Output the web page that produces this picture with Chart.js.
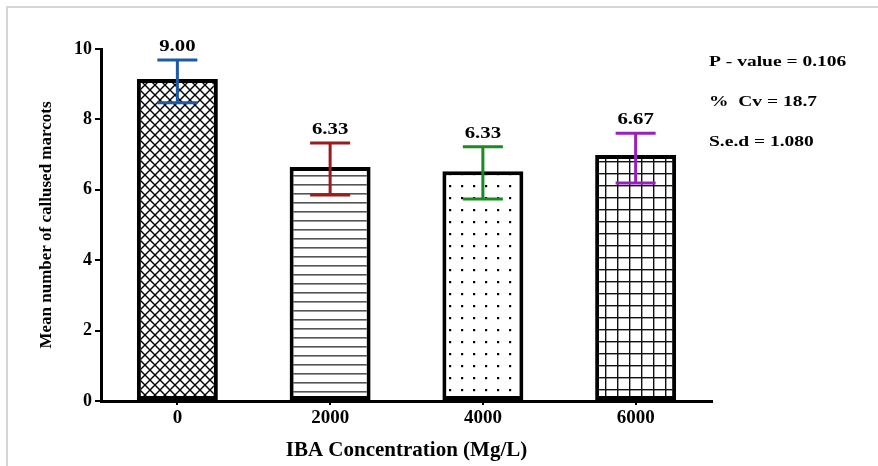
<!DOCTYPE html>
<html>
<head>
<meta charset="utf-8">
<script src="https://cdn.jsdelivr.net/npm/chart.js@4/dist/chart.umd.min.js"></script>
<style>
	html, body { margin: 0; padding: 0; background: #fff; }
	#wrap { position: relative; width: 878px; height: 466px; }
	#frame { position: absolute; left: 6px; top: 6px; right: 0; bottom: 0; border-left: 2px solid #d6d6d6; border-top: 2px solid #d6d6d6; }
	canvas { position: absolute; left: 0; top: 0; }
</style>
</head>
<body>
<div id="wrap">
	<div id="frame"></div>
	<canvas id="chart" width="878" height="466"></canvas>
</div>
<script>
const categories = ["0", "2000", "4000", "6000"];
const means = [9.15, 6.65, 6.53, 6.99];
const errHigh = [9.69, 7.33, 7.22, 7.61];
const errLow = [8.47, 5.85, 5.74, 6.19];
const valueLabels = ["9.00", "6.33", "6.33", "6.67"];
const errColors = ["#1b5aa6", "#9a1c1c", "#1b8a23", "#9b1fc0"];
const yTicks = [0, 2, 4, 6, 8, 10];
const stats = ["P - value = 0.106", "%  Cv = 18.7", "S.e.d = 1.080"];

const FONT = "'Liberation Serif', 'Times New Roman', serif";

function makePattern(kind) {
	const c = document.createElement("canvas");
	const ctx = c.getContext("2d");
	if (kind === "cross") {
		const s = 10;
		c.width = s; c.height = s;
		ctx.fillStyle = "#fff";
		ctx.fillRect(0, 0, s, s);
		ctx.strokeStyle = "#000";
		ctx.lineWidth = 1.4;
		ctx.beginPath();
		ctx.moveTo(-1, -1); ctx.lineTo(s + 1, s + 1);
		ctx.moveTo(s + 1, -1); ctx.lineTo(-1, s + 1);
		ctx.stroke();
	} else if (kind === "hlines") {
		c.width = 10; c.height = 9;
		ctx.fillStyle = "#fff";
		ctx.fillRect(0, 0, 10, 9);
		ctx.fillStyle = "#555";
		ctx.fillRect(0, 4, 10, 1.6);
	} else if (kind === "dots") {
		c.width = 12; c.height = 12;
		ctx.fillStyle = "#fff";
		ctx.fillRect(0, 0, 12, 12);
		ctx.fillStyle = "#000";
		ctx.fillRect(5, 5, 2.2, 2.2);
	} else {
		c.width = 12; c.height = 12;
		ctx.fillStyle = "#fff";
		ctx.fillRect(0, 0, 12, 12);
		ctx.fillStyle = "#111";
		ctx.fillRect(0, 5, 12, 1.4);
		ctx.fillRect(5, 0, 1.4, 12);
	}
	return document.getElementById("chart").getContext("2d").createPattern(c, "repeat");
}

const fills = [makePattern("cross"), makePattern("hlines"), makePattern("dots"), makePattern("grid")];

// text in the source picture is stretched sideways, so draw it a bit wider
function wideText(ctx, text, x, y, align, sx) {
	ctx.save();
	ctx.translate(x, y);
	ctx.scale(sx, 1);
	ctx.textAlign = align;
	ctx.fillText(text, 0, 0);
	ctx.restore();
}

const extras = {
	id: "extras",
	afterDatasetsDraw(chart) {
		const ctx = chart.ctx;
		const x = chart.scales.x;
		const y = chart.scales.y;
		ctx.save();
		categories.forEach((cat, i) => {
			const cx = x.getPixelForValue(i);
			const top = y.getPixelForValue(errHigh[i]);
			const bot = y.getPixelForValue(errLow[i]);
			ctx.strokeStyle = errColors[i];
			ctx.lineWidth = 3;
			ctx.beginPath();
			ctx.moveTo(cx, top); ctx.lineTo(cx, bot);
			ctx.moveTo(cx - 20, top); ctx.lineTo(cx + 20, top);
			ctx.moveTo(cx - 20, bot); ctx.lineTo(cx + 20, bot);
			ctx.stroke();
			ctx.fillStyle = "#000";
			ctx.font = "bold 16px " + FONT;
			ctx.textBaseline = "middle";
			wideText(ctx, valueLabels[i], cx, top - 13, "center", 1.3);
		});
		ctx.font = "bold 15px " + FONT;
		ctx.textBaseline = "middle";
		stats.forEach((t, i) => {
			wideText(ctx, t, 709, 62 + i * 40, "left", 1.3);
		});
		ctx.restore();
	}
};

new Chart(document.getElementById("chart"), {
	type: "bar",
	plugins: [extras],
	data: {
		labels: categories,
		datasets: [
			{
				data: means,
				backgroundColor: fills,
				borderColor: "#000",
				borderWidth: 4,
				borderSkipped: false,
				barPercentage: 0.53,
				categoryPercentage: 1
			}
		]
	},
	options: {
		responsive: false,
		animation: false,
		layout: { padding: { top: 49, right: 166, left: 0, bottom: 0 } },
		plugins: {
			legend: { display: false },
			tooltip: { enabled: false }
		},
		scales: {
			x: {
				afterFit: (s) => { s.height = 65; },
				border: { color: "#000", width: 3 },
				grid: { display: true, drawOnChartArea: false, offset: false, color: "#000", lineWidth: 2, tickLength: 4 },
				ticks: { color: "#000", font: { family: FONT, size: 19, weight: "bold" }, padding: 2 },
				title: {
					display: true,
					text: "IBA Concentration (Mg/L)",
					color: "#000",
					font: { family: FONT, size: 21, weight: "bold" },
					padding: { top: 0, bottom: 3 }
				}
			},
			y: {
				min: 0,
				max: 10,
				afterFit: (s) => { s.width = 101; },
				afterBuildTicks: (s) => { s.ticks = yTicks.map((v) => ({ value: v })); },
				border: { color: "#000", width: 3 },
				grid: { display: true, drawOnChartArea: false, color: "#000", lineWidth: 2, tickLength: 6 },
				ticks: { color: "#000", font: { family: FONT, size: 18, weight: "bold" }, padding: 3 },
				title: {
					display: true,
					text: "Mean number of callused marcots",
					color: "#000",
					font: { family: FONT, size: 17, weight: "bold" },
					padding: { top: 36, bottom: 0 }
				}
			}
		}
	}
});
</script>
</body>
</html>
